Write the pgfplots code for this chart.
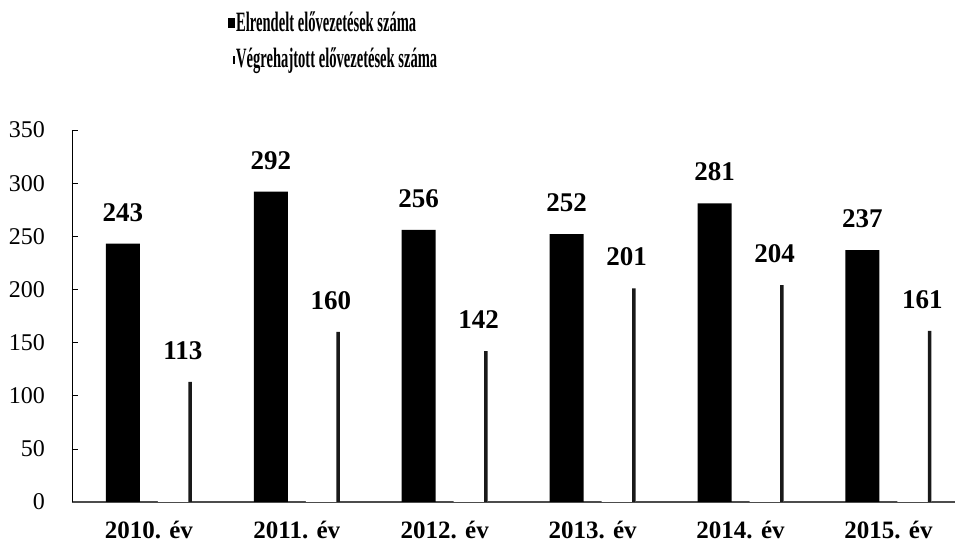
\documentclass[border=0pt]{standalone}
\usepackage{fontspec}
\setmainfont{Liberation Serif}
\usepackage{pgfplots}
\pgfplotsset{compat=1.18}
\begin{document}
\begin{tikzpicture}
\begin{axis}[
  at={(0,0)}, anchor=south west,
  scale only axis, width=883bp, height=372bp,
  xmin=-0.52, xmax=5.45, ymin=0, ymax=350,
  axis x line*=bottom, axis y line*=left,
  x axis line style={draw=black!70, line width=1.2bp, -},
  y axis line style={draw=black, line width=0.8bp, -},
  xtick={0,1,2,3,4,5},
  xticklabels={2010. év, 2011. év, 2012. év, 2013. év, 2014. év, 2015. év},
  major x tick style={draw=none},
  ytick={0,50,...,350},
  tick align=inside, major tick length=6bp,
  ytick style={black, line width=0.6bp},
  /pgf/number format/assume math mode=true,
  yticklabel style={font=\fontsize{24bp}{28bp}\selectfont, inner sep=0pt, anchor=east, xshift=-27bp},
  xticklabel style={font=\bfseries\fontsize{25bp}{29bp}\selectfont, inner sep=0pt, anchor=north, yshift=-13bp},
  ybar, bar width=34bp,
  nodes near coords,
  nodes near coords style={font=\bfseries\fontsize{27bp}{30bp}\selectfont, inner sep=0pt, anchor=south, yshift=22bp, black},
  legend style={at={(0.1733,1.327)}, anchor=north west, draw=none, fill=none,
    font=\bfseries\fontsize{28bp}{32bp}\selectfont, row sep=13bp,
    nodes={inner sep=1bp}},
  legend cell align=left,
]
\addplot[fill=black, draw=none, bar shift=-26bp,
  legend image code/.code={\fill[black] (0bp,-6bp) rectangle (7bp,4bp);}]
  coordinates {(0,243) (1,292) (2,256) (3,252) (4,281) (5,237)};
\addlegendentry{\scalebox{0.52}[1]{Elrendelt elővezetések száma}}
\addplot[fill=white, draw=none, bar shift=26bp,
  nodes near coords style={xshift=8bp},
  legend image code/.code={\fill[white] (0bp,-6bp) rectangle (7bp,4bp); \fill[black] (5bp,-6bp) rectangle (7bp,2bp);}]
  coordinates {(0,113) (1,160) (2,142) (3,201) (4,204) (5,161)};
\addlegendentry{\scalebox{0.52}[1]{Végrehajtott elővezetések száma}}
\addplot[fill=black!90, draw=none, bar width=3.5bp, bar shift=41.25bp, forget plot,
  every node near coord/.style={opacity=0}]
  coordinates {(0,113) (1,160) (2,142) (3,201) (4,204) (5,161)};
\end{axis}
\pgfresetboundingbox
\path[use as bounding box] (-72bp,-42bp) rectangle (886bp,502bp);
\end{tikzpicture}
\end{document}
